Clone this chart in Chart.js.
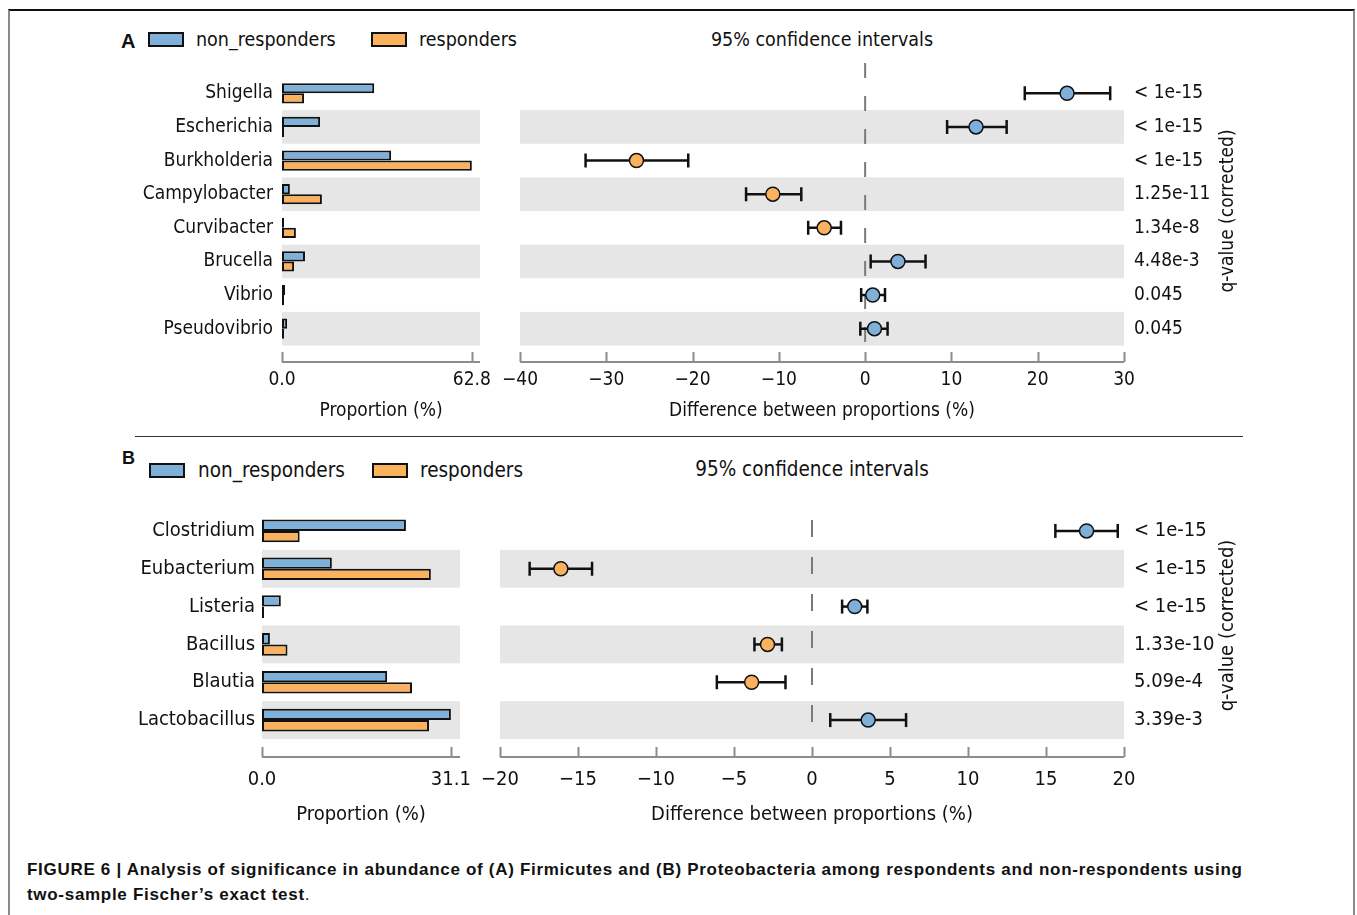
<!DOCTYPE html>
<html>
<head>
<meta charset="utf-8">
<script src="https://cdn.jsdelivr.net/npm/chart.js@4.4.0/dist/chart.umd.min.js"></script>
<style>
  body { margin: 0; background: #fff; width: 1357px; height: 915px; overflow: hidden; position: relative;
         font-family: 'DejaVu Sans Condensed', 'DejaVu Sans', sans-serif; color: #111; }
  .frame { position: absolute; left: 8px; top: 9px; width: 1343px; height: 930px;
           border-top: 2px solid #111; border-left: 2px solid #8a8a8a; border-right: 2px solid #8a8a8a; }
  .sep { position: absolute; left: 135px; top: 436px; width: 1108px; height: 0; border-top: 1.5px solid #333; }
  canvas { position: absolute; }
  .t { position: absolute; white-space: nowrap; line-height: 1; transform: translateY(-50%); }
  .c { transform: translate(-50%, -50%); }
  .box { position: absolute; width: 32px; height: 11px; border: 2px solid #111; }
  .panel { font-family: 'Liberation Sans', Arial, sans-serif; font-weight: bold; font-size: 20px; }
  .cap { font-family: 'Liberation Sans', Arial, sans-serif; font-weight: bold; font-size: 17px; letter-spacing: 0.7px; color: #111; }
</style>
</head>
<body>
<div class="frame"></div>
<div class="sep"></div>

<!-- panel A legend / title -->
<div class="t panel" style="left:121px;top:41px">A</div>
<div class="box" style="left:148px;top:32px;background:#7eb0da"></div>
<div class="t" style="left:196px;top:40px;font-size:19.5px">non_responders</div>
<div class="box" style="left:371px;top:32px;background:#fbb25e"></div>
<div class="t" style="left:419px;top:40px;font-size:19.5px">responders</div>
<div class="t c" style="left:822px;top:40px;font-size:19.5px">95% confidence intervals</div>

<!-- panel B legend / title -->
<div class="t panel" style="left:122px;top:458px;font-size:18px">B</div>
<div class="box" style="left:149px;top:463px;background:#7eb0da"></div>
<div class="t" style="left:198px;top:470px;font-size:20.5px">non_responders</div>
<div class="box" style="left:372px;top:463px;background:#fbb25e"></div>
<div class="t" style="left:420px;top:470px;font-size:20.5px">responders</div>
<div class="t c" style="left:812px;top:469px;font-size:20.5px">95% confidence intervals</div>

<canvas id="barA" width="415" height="372" style="left:90px;top:60px"></canvas>
<canvas id="ciA" width="765" height="372" style="left:495px;top:60px"></canvas>
<canvas id="barB" width="415" height="345" style="left:70px;top:490px"></canvas>
<canvas id="ciB" width="785" height="345" style="left:475px;top:490px"></canvas>

<div class="t cap" style="left:27px;top:869px">FIGURE 6 | Analysis of significance in abundance of (A) Firmicutes and (B) Proteobacteria among respondents and non-respondents using</div>
<div class="t cap" style="left:27px;top:894px">two-sample Fischer’s exact test<span style="font-weight:normal">.</span></div>

<script>
// ---- panel A data ----
const generaA = ['Shigella', 'Escherichia', 'Burkholderia', 'Campylobacter', 'Curvibacter', 'Brucella', 'Vibrio', 'Pseudovibrio'];
const nonRespA = [30.5, 12.6, 36.1, 2.6, 0.3, 7.6, 1.0, 1.7];
const respA = [7.3, 0.2, 62.8, 13.2, 4.6, 4.0, 0.3, 0.5];
const diffA = [23.4, 12.85, -26.5, -10.7, -4.75, 3.8, 0.88, 1.08];
const ciLowA = [18.5, 9.5, -32.4, -13.8, -6.6, 0.64, -0.46, -0.56];
const ciHighA = [28.4, 16.4, -20.5, -7.4, -2.8, 7.0, 2.3, 2.6];
const qValA = ['< 1e-15', '< 1e-15', '< 1e-15', '1.25e-11', '1.34e-8', '4.48e-3', '0.045', '0.045'];
const propTicksA = [0, 62.8];
const propMaxA = 65.5;
const diffTicksA = [-40, -30, -20, -10, 0, 10, 20, 30];

// ---- panel B data ----
const generaB = ['Clostridium', 'Eubacterium', 'Listeria', 'Bacillus', 'Blautia', 'Lactobacillus'];
const nonRespB = [23.7, 11.5, 3.1, 1.3, 20.6, 31.1];
const respB = [6.2, 27.8, 0.2, 4.2, 24.7, 27.5];
const diffB = [17.6, -16.1, 2.74, -2.85, -3.87, 3.6];
const ciLowB = [15.6, -18.1, 1.93, -3.69, -6.1, 1.17];
const ciHighB = [19.6, -14.1, 3.55, -1.93, -1.7, 6.03];
const qValB = ['< 1e-15', '< 1e-15', '< 1e-15', '1.33e-10', '5.09e-4', '3.39e-3'];
const propTicksB = [0, 31.1];
const propMaxB = 32.6;
const diffTicksB = [-20, -15, -10, -5, 0, 5, 10, 15, 20];

const BLUE = '#7eb0da';
const ORANGE = '#fbb25e';
const INK = '#111';
const FAMILY = "'DejaVu Sans Condensed', 'DejaVu Sans', sans-serif";

Chart.defaults.font.family = FAMILY;
Chart.defaults.color = INK;

const minus = v => (v < 0 ? '\u2212' + (-v) : String(v));
// keep the plot box exactly where layout puts it (no room made for overhanging labels)
const noPad = s => { s.paddingLeft = 0; s.paddingRight = 0; s.paddingTop = 0; s.paddingBottom = 0; };

// grey band behind every other row
const rowBands = {
  id: 'rowBands',
  beforeDatasetsDraw(chart, args, opts) {
    const { ctx, chartArea: a, scales: { y } } = chart;
    ctx.save();
    ctx.fillStyle = '#e6e6e6';
    for (let i = 1; i < opts.count; i += 2) {
      const y0 = y.getPixelForValue(i - 0.5), y1 = y.getPixelForValue(i + 0.5);
      ctx.fillRect(a.left, Math.min(y0, y1), a.right - a.left, Math.abs(y1 - y0));
    }
    ctx.restore();
  }
};

// x axis line sits a little below the plot, ticks point up
const offsetAxis = {
  id: 'offsetAxis',
  afterDraw(chart, args, opts) {
    const { ctx, chartArea: a, scales: { x } } = chart;
    const yl = a.bottom + opts.gap;
    ctx.save();
    ctx.strokeStyle = '#8c8c8c';
    ctx.lineWidth = 2;
    ctx.beginPath();
    ctx.moveTo(a.left, yl);
    ctx.lineTo(a.right, yl);
    x.ticks.forEach(t => {
      const px = Math.round(x.getPixelForValue(t.value)) + 0.5;
      ctx.moveTo(px, yl);
      ctx.lineTo(px, yl - 10);
    });
    ctx.stroke();
    ctx.restore();
  }
};

// dashed line at zero difference + q-value caption
const ciExtras = {
  id: 'ciExtras',
  beforeDatasetsDraw(chart, args, opts) {
    const { ctx, chartArea: a, scales: { x } } = chart;
    const px = x.getPixelForValue(0);
    ctx.save();
    ctx.strokeStyle = '#7a7a7a';
    ctx.lineWidth = 2;
    ctx.setLineDash(opts.dash);
    ctx.beginPath();
    ctx.moveTo(px, a.top + opts.dashTop);
    ctx.lineTo(px, a.bottom);
    ctx.stroke();
    ctx.restore();
  },
  afterDraw(chart, args, opts) {
    const { ctx, chartArea: a } = chart;
    ctx.save();
    ctx.translate(a.right + opts.titleOffset, (a.top + a.bottom) / 2);
    ctx.rotate(-Math.PI / 2);
    ctx.font = opts.fontSize + 'px ' + FAMILY;
    ctx.fillStyle = INK;
    ctx.textAlign = 'center';
    ctx.textBaseline = 'middle';
    ctx.fillText(opts.title, 0, 0);
    ctx.restore();
  }
};

function barChart(id, genera, nonResp, resp, propTicks, propMax, L) {
  return new Chart(document.getElementById(id), {
    type: 'bar',
    data: {
      labels: genera,
      datasets: [
        { label: 'non_responders', data: nonResp, backgroundColor: BLUE },
        { label: 'responders', data: resp, backgroundColor: ORANGE }
      ]
    },
    options: {
      indexAxis: 'y',
      responsive: false,
      animation: false,
      layout: { padding: { left: 0, right: 25, top: L.top, bottom: 0 } },
      datasets: {
        bar: { categoryPercentage: 0.6, barPercentage: 1, borderColor: INK, borderWidth: 2, borderSkipped: false, minBarLength: 2 }
      },
      scales: {
        x: {
          min: 0, max: propMax,
          afterBuildTicks: s => { s.ticks = propTicks.map(v => ({ value: v })); },
          ticks: { callback: v => Number(v).toFixed(1), font: { size: L.font }, color: INK, padding: L.tickPad, autoSkip: false, maxRotation: 0 },
          grid: { display: false, drawTicks: false },
          border: { display: false },
          title: { display: true, text: 'Proportion (%)', font: { size: L.font }, color: INK, padding: { top: 0, bottom: L.titlePad } },
          afterFit: s => { s.height = L.axisH; noPad(s); }
        },
        y: {
          ticks: { font: { size: L.font }, color: INK, padding: L.labelPad, autoSkip: false },
          grid: { display: false, drawTicks: false },
          border: { display: false },
          afterFit: s => { s.width = L.yW; noPad(s); }
        }
      },
      plugins: {
        legend: { display: false },
        tooltip: { enabled: false },
        rowBands: { count: genera.length },
        offsetAxis: { gap: L.gap }
      }
    },
    plugins: [rowBands, offsetAxis]
  });
}

function ciChart(id, diff, lo, hi, qVal, diffTicks, L) {
  const n = diff.length;
  const datasets = [{
    type: 'scatter',
    data: diff.map((d, i) => ({ x: d, y: i })),
    pointRadius: 7, pointHoverRadius: 7,
    pointBackgroundColor: diff.map(d => (d >= 0 ? BLUE : ORANGE)),
    pointBorderColor: INK, pointBorderWidth: 1.5,
    order: 0
  }];
  lo.forEach((l, i) => datasets.push({
    type: 'line',
    showLine: true,
    data: [{ x: l, y: i }, { x: hi[i], y: i }],
    borderColor: INK, borderWidth: 2.5,
    pointStyle: 'line', pointRotation: 90, pointRadius: 7, pointHoverRadius: 7,
    pointBorderColor: INK, pointBorderWidth: 2.5,
    order: 1
  }));
  return new Chart(document.getElementById(id), {
    type: 'scatter',
    data: { datasets },
    options: {
      responsive: false,
      animation: false,
      layout: { padding: { left: 25, right: 0, top: L.top, bottom: 0 } },
      scales: {
        x: {
          type: 'linear',
          min: diffTicks[0], max: diffTicks[diffTicks.length - 1],
          afterBuildTicks: s => { s.ticks = diffTicks.map(v => ({ value: v })); },
          ticks: { callback: v => minus(v), font: { size: L.font }, color: INK, padding: L.tickPad, autoSkip: false, maxRotation: 0 },
          grid: { display: false, drawTicks: false },
          border: { display: false },
          title: { display: true, text: 'Difference between proportions (%)', font: { size: L.font }, color: INK, padding: { top: 0, bottom: L.titlePad } },
          afterFit: s => { s.height = L.axisH; noPad(s); }
        },
        y: { type: 'linear', min: -0.5, max: n - 0.5, reverse: true, display: false },
        q: {
          axis: 'y', type: 'linear', position: 'right',
          min: -0.5, max: n - 0.5, reverse: true,
          afterBuildTicks: s => { s.ticks = qVal.map((_, i) => ({ value: i })); },
          ticks: { callback: v => qVal[v], font: { size: L.font }, color: INK, padding: 10, autoSkip: false },
          grid: { display: false, drawTicks: false },
          border: { display: false },
          afterFit: s => { s.width = L.qW; noPad(s); }
        }
      },
      plugins: {
        legend: { display: false },
        tooltip: { enabled: false },
        rowBands: { count: n },
        offsetAxis: { gap: L.gap },
        ciExtras: { dash: L.dash, dashTop: L.dashTop, title: 'q-value (corrected)', titleOffset: 104, fontSize: L.font }
      }
    },
    plugins: [rowBands, offsetAxis, ciExtras]
  });
}

const layoutA = { top: 16.5, axisH: 86.5, tickPad: 23, titlePad: 10, labelPad: 9, yW: 192, qW: 136, gap: 16.5, font: 19, dash: [15, 18], dashTop: -13.5 };
const layoutB = { top: 22, axisH: 96, tickPad: 28.5, titlePad: 8, labelPad: 7, yW: 192, qW: 136, gap: 18, font: 20, dash: [17, 20], dashTop: 8 };

barChart('barA', generaA, nonRespA, respA, propTicksA, propMaxA, layoutA);
ciChart('ciA', diffA, ciLowA, ciHighA, qValA, diffTicksA, layoutA);
barChart('barB', generaB, nonRespB, respB, propTicksB, propMaxB, layoutB);
ciChart('ciB', diffB, ciLowB, ciHighB, qValB, diffTicksB, layoutB);
</script>
</body>
</html>
